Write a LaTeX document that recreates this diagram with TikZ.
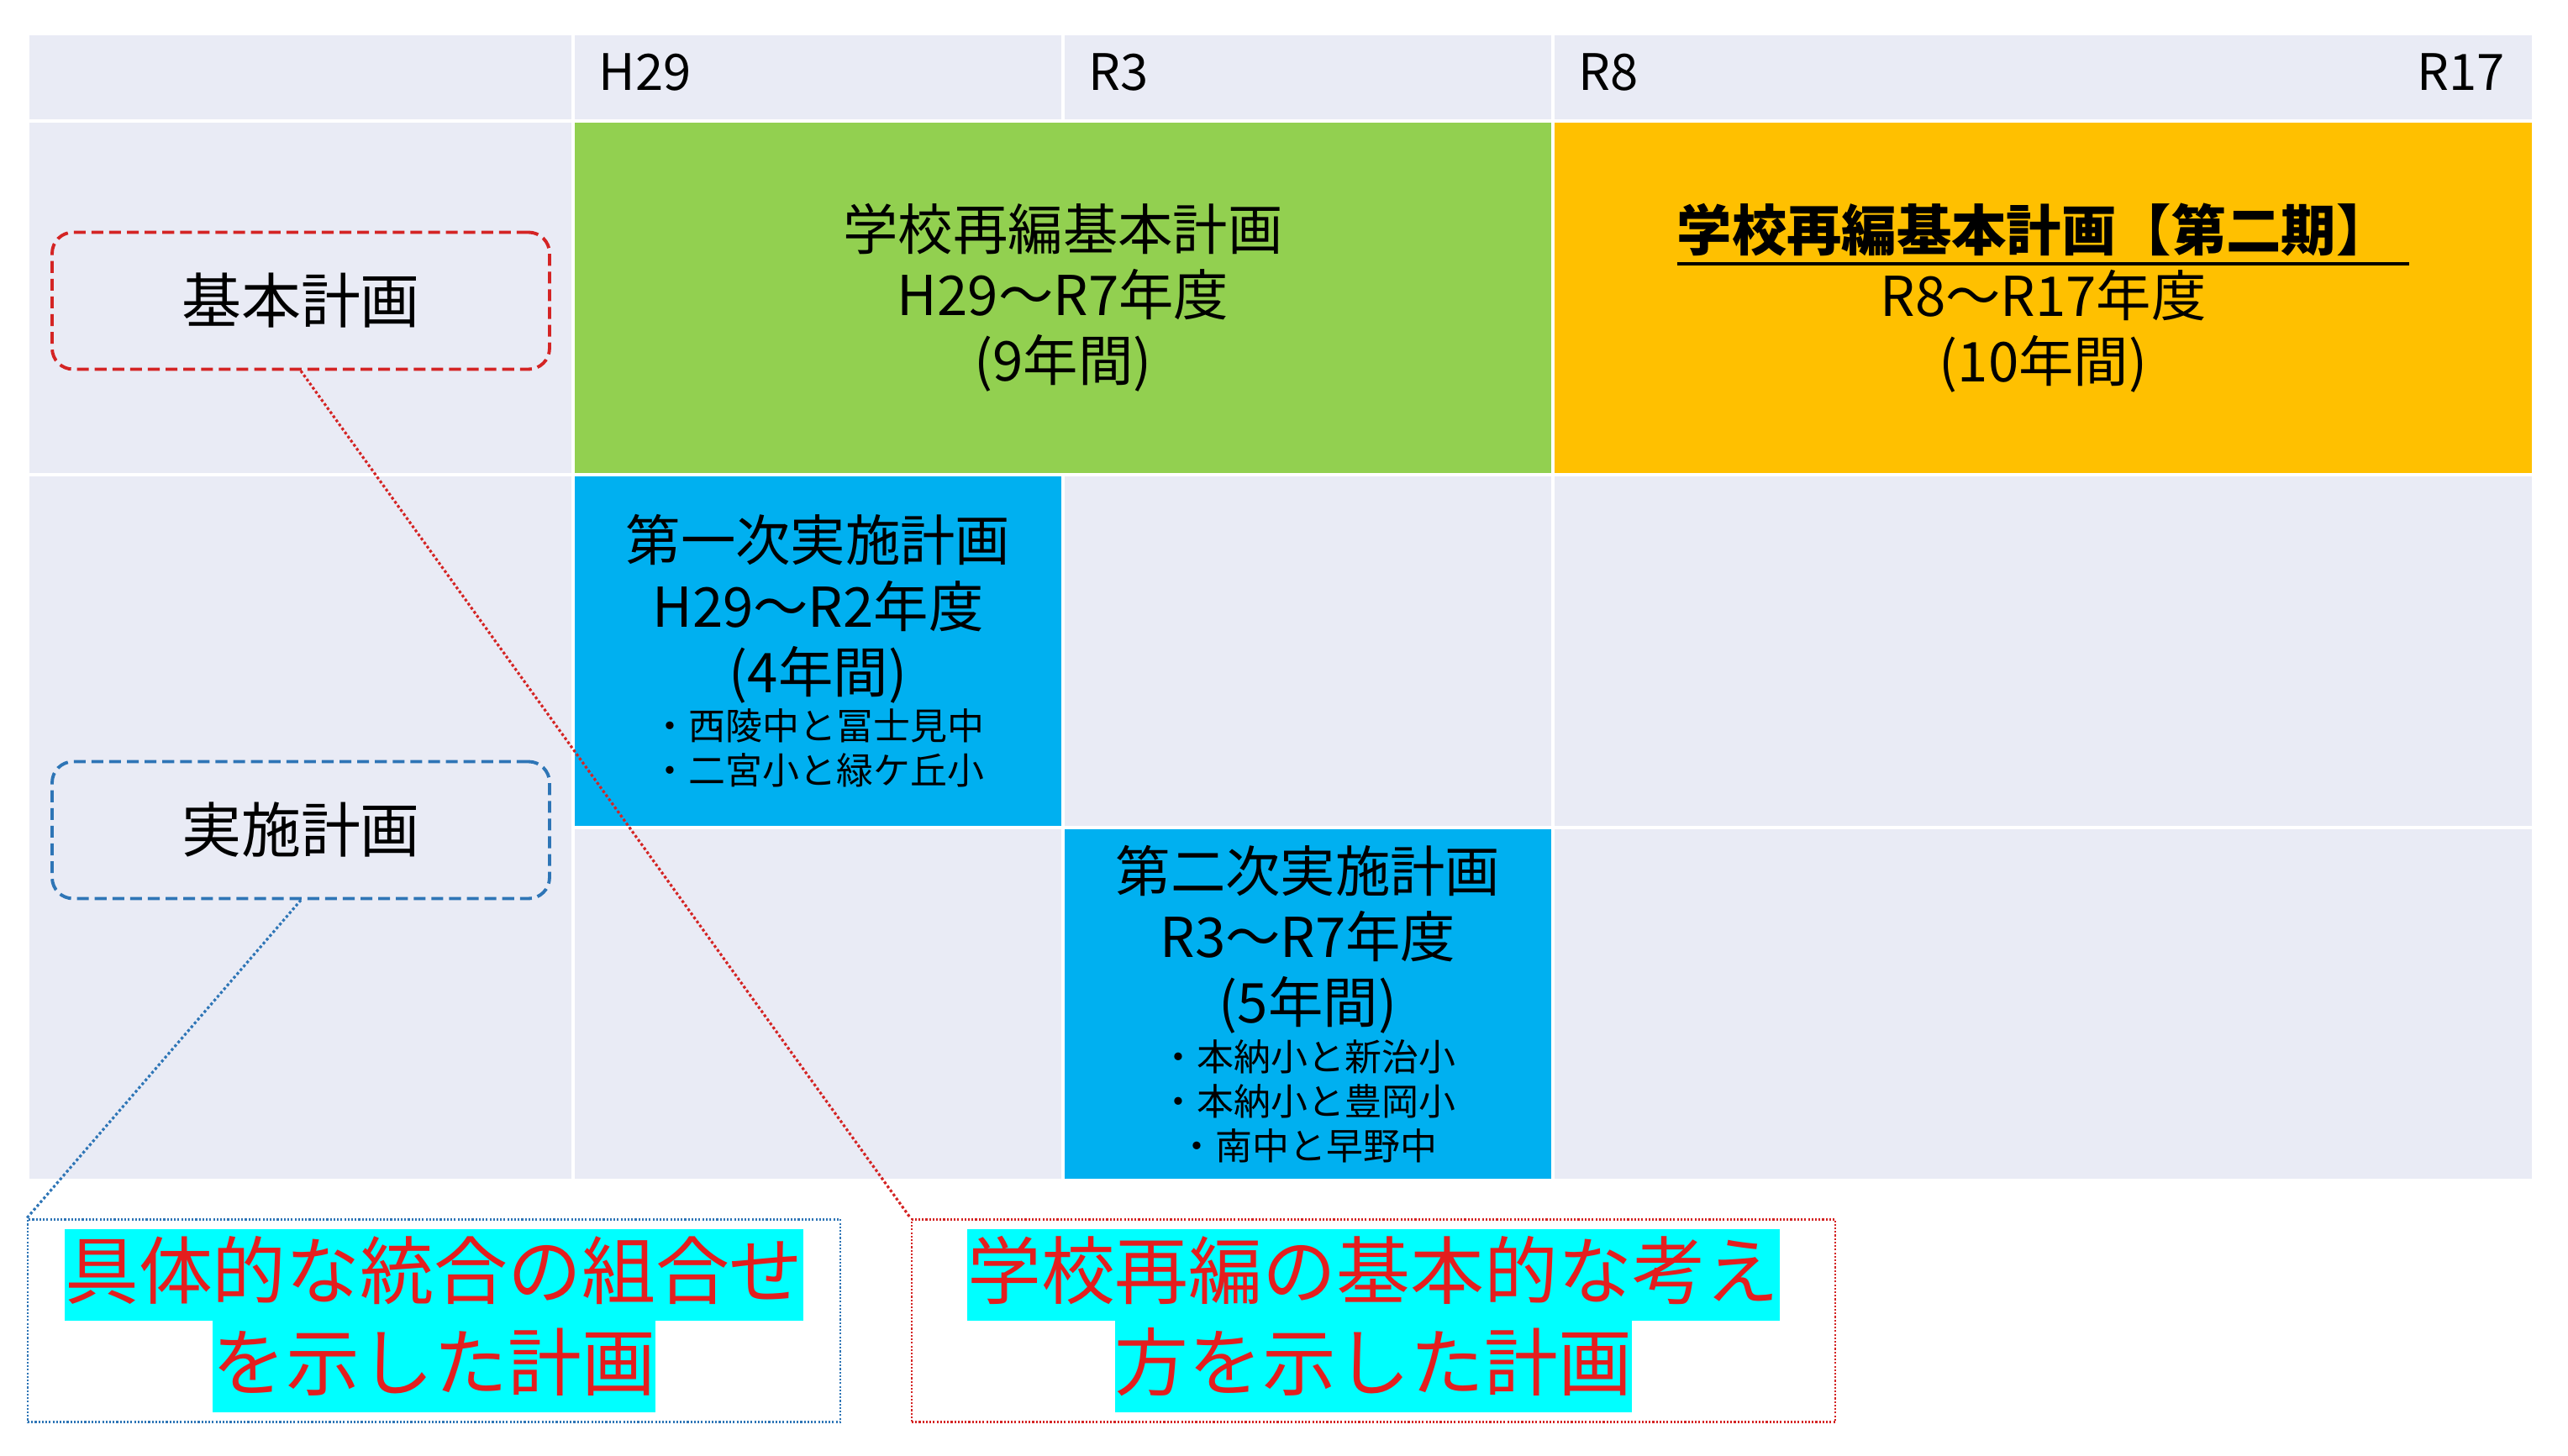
\documentclass[tikz,border=0pt]{standalone}
\usepackage{fontspec}
\setmainfont{Noto Sans CJK JP}
\usetikzlibrary{positioning}
\definecolor{cellgray}{HTML}{E9EBF5}
\definecolor{plangreen}{HTML}{92D050}
\definecolor{planorange}{HTML}{FFC000}
\definecolor{planblue}{HTML}{00B0F0}
\definecolor{linered}{HTML}{D42424}
\definecolor{lineblue}{HTML}{2E75B6}
\definecolor{notered}{HTML}{E41E1E}
\definecolor{marker}{HTML}{00FFFF}
\tikzset{
  cell/.style={draw=white, line width=1.4pt},
  year/.style={font=\fontsize{17}{21}\selectfont, inner sep=0pt},
  plan/.style={cell, align=center, text width=5.5cm, font=\fontsize{18.6}{22.2}\selectfont},
  labelbox/.style={draw, dash pattern=on 4pt off 2pt, line width=1.1pt, rounded corners=0.25cm,
    minimum width=5.92cm, minimum height=1.63cm, font=\fontsize{20.2}{24}\selectfont},
  callout/.style={draw, dash pattern=on 0.6pt off 0.6pt, line width=0.7pt, minimum height=2.40cm,
    align=center, text=notered, font=\fontsize{25}{31}\selectfont},
  pointer/.style={dash pattern=on 0.9pt off 0.8pt, line width=0.9pt}
}
\newcommand{\schools}{\fontsize{12.5}{15}\selectfont}
\newcommand{\marked}[1]{{\setlength{\fboxsep}{0pt}\colorbox{marker}{\rule[-7.6pt]{0pt}{31pt}#1}}}
\newcommand{\titleline}[1]{\setbox0=\hbox{#1}\rlap{\rule[-5pt]{\wd0}{1.1pt}}\box0}
\begin{document}
\begin{tikzpicture}[y=-1cm]
  \useasboundingbox (0,0) rectangle (30.56,17.33);
  % empty cells of the table
  \foreach \xa/\ya/\xb/\yb in {0.33/0.40/6.82/1.44, 6.82/0.40/12.65/1.44, 12.65/0.40/18.48/1.44,
      18.48/0.40/30.15/1.44, 0.33/1.44/6.82/5.65, 0.33/5.65/6.82/14.05, 12.65/5.65/18.48/9.85,
      18.48/5.65/30.15/9.85, 6.82/9.85/12.65/14.05, 18.48/9.85/30.15/14.05}
    \draw[cell, fill=cellgray] (\xa,\ya) rectangle (\xb,\yb);

  \node[year, anchor=base west] (yH29) at (7.12,1.08) {H29};
  \node[year, anchor=base west] (yR3) at (12.95,1.08) {R3};
  \node[year, anchor=base west] (yR8) at (18.78,1.08) {R8};
  \node[year, anchor=base east] (yR17) at (29.81,1.08) {R17};

  % plans
  \node[plan, fill=plangreen, minimum width=11.66cm, minimum height=4.21cm] (basic1) at (12.65,3.545)
    {学校再編基本計画\\H29～R7年度\\(9年間)};
  \node[plan, fill=planorange, minimum width=11.67cm, minimum height=4.21cm, text width=10cm] (basic2) at (24.315,3.545)
    {\titleline{\bfseries 学校再編基本計画【第二期】\ }\\R8～R17年度\\(10年間)};
  \node[plan, fill=planblue, minimum width=5.83cm, minimum height=4.20cm] (impl1) at (9.735,7.75)
    {第一次実施計画\\H29～R2年度\\(4年間)\\[1.2pt]\schools ・西陵中と冨士見中\\・二宮小と緑ケ丘小\par\vspace{0.1cm}};
  \node[plan, fill=planblue, minimum width=5.83cm, minimum height=4.20cm] (impl2) at (15.565,11.95)
    {第二次実施計画\\R3～R7年度\\(5年間)\\[1.2pt]\schools ・本納小と新治小\\・本納小と豊岡小\\・南中と早野中\par\vspace{0.1cm}};

  \node[labelbox, draw=linered] (basicLbl) at (3.58,3.58) {基本計画};
  \node[labelbox, draw=lineblue] (implLbl) at (3.58,9.88) {実施計画};

  % notes below
  \node[callout, draw=lineblue, minimum width=9.67cm] (concrete) at (5.165,15.72)
    {\marked{具体的な統合の組合せ}\\\marked{を示した計画}};
  \node[callout, draw=linered, minimum width=10.99cm] (concept) at (16.345,15.72)
    {\marked{学校再編の基本的な考え}\\\marked{方を示した計画}};

  \draw[pointer, draw=linered] (basicLbl.south) -- (concept.north west);
  \draw[pointer, draw=lineblue] (implLbl.south) -- (concrete.north west);
\end{tikzpicture}
\end{document}
